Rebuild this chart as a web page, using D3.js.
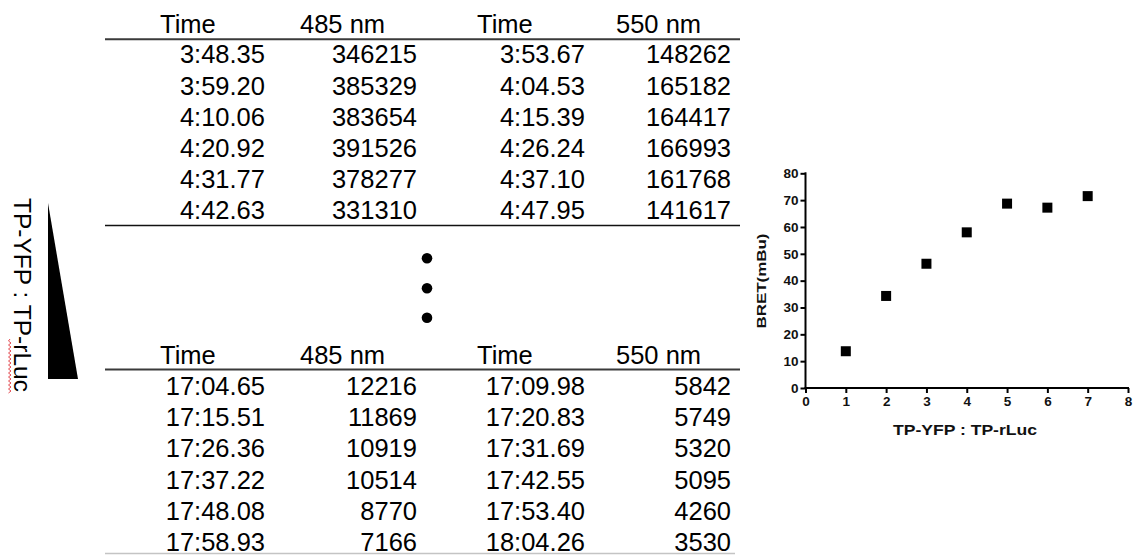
<!DOCTYPE html>
<html>
<head>
<meta charset="utf-8">
<script src="https://cdn.jsdelivr.net/npm/d3@7"></script>
<style>
  html, body { margin: 0; padding: 0; background: #fff; }
  svg text { font-family: "Liberation Sans", Arial, sans-serif; }
</style>
</head>
<body>
<svg id="fig" width="1136" height="555"></svg>
<script>
// ---------------- data ----------------
const headers = ["Time", "485 nm", "Time", "550 nm"];
const topTime485 = ["3:48.35", "3:59.20", "4:10.06", "4:20.92", "4:31.77", "4:42.63"];
const top485     = [346215, 385329, 383654, 391526, 378277, 331310];
const topTime550 = ["3:53.67", "4:04.53", "4:15.39", "4:26.24", "4:37.10", "4:47.95"];
const top550     = [148262, 165182, 164417, 166993, 161768, 141617];
const botTime485 = ["17:04.65", "17:15.51", "17:26.36", "17:37.22", "17:48.08", "17:58.93"];
const bot485     = [12216, 11869, 10919, 10514, 8770, 7166];
const botTime550 = ["17:09.98", "17:20.83", "17:31.69", "17:42.55", "17:53.40", "18:04.26"];
const bot550     = [5842, 5749, 5320, 5095, 4260, 3530];

const ratio = [1, 2, 3, 4, 5, 6, 7];
const bret  = [13.7, 34.3, 46.3, 58.0, 68.7, 67.2, 71.5];
const xTicks = [0, 1, 2, 3, 4, 5, 6, 7, 8];
const yTicks = [0, 10, 20, 30, 40, 50, 60, 70, 80];
const xLabel = "TP-YFP : TP-rLuc";
const yLabel = "BRET(mBu)";
const sideLabel = "TP-YFP : TP-rLuc";

// ---------------- drawing ----------------
const svg = d3.select("#fig");
const FS = 25.5;

// column layout
const headerX = [160, 300, 477, 616];
const colRight = [265, 417, 585, 731];
const rowStep = 31.2;

function drawBlock(headerBase, lineY, firstBase, cols) {
  const g = svg.append("g");
  g.selectAll("text.h").data(headers).join("text")
    .attr("class", "h")
    .attr("x", (d, i) => headerX[i]).attr("y", headerBase)
    .attr("font-size", FS).attr("fill", "#000").text(d => d);
  g.append("line").attr("x1", 105).attr("x2", 740).attr("y1", lineY).attr("y2", lineY)
    .attr("stroke", "#3a3a3a").attr("stroke-width", 2);
  cols.forEach((col, ci) => {
    g.selectAll("text.c" + ci).data(col).join("text")
      .attr("class", "c" + ci)
      .attr("x", colRight[ci])
      .attr("y", (d, i) => firstBase + i * rowStep)
      .attr("text-anchor", "end")
      .attr("font-size", FS).attr("fill", "#000")
      .text(d => d);
  });
}

drawBlock(33, 39.3, 63.3, [topTime485, top485, topTime550, top550]);
svg.append("line").attr("x1", 105).attr("x2", 740).attr("y1", 225.5).attr("y2", 225.5)
  .attr("stroke", "#111").attr("stroke-width", 1.3);
drawBlock(363.5, 369.5, 395, [botTime485, bot485, botTime550, bot550]);
svg.append("line").attr("x1", 105).attr("x2", 735).attr("y1", 553.5).attr("y2", 553.5)
  .attr("stroke", "#c4c4c4").attr("stroke-width", 1.3);

// ellipsis dots
svg.selectAll("circle.dot").data([258.3, 288.3, 317.8]).join("circle")
  .attr("class", "dot").attr("cx", 427).attr("cy", d => d).attr("r", 5.3).attr("fill", "#000");

// side label + triangle
svg.append("text")
  .attr("transform", "translate(14,198) rotate(90)")
  .attr("font-size", 24.5).attr("fill", "#000")
  .attr("textLength", 194).attr("lengthAdjust", "spacingAndGlyphs")
  .text(sideLabel);
// spellcheck squiggle under "Luc"
(function () {
  let p = "M10,339";
  let yy = 339, k = 0;
  while (yy < 392) { yy += 2; k++; p += "L" + (k % 2 ? 8.5 : 11) + "," + yy; }
  svg.append("path").attr("d", p).attr("fill", "none").attr("stroke", "#e0393e").attr("stroke-width", 0.9);
})();
svg.append("path").attr("d", "M48,203L48,379L78,379Z").attr("fill", "#000");

// ---------------- scatter ----------------
const x = d3.scaleLinear().domain([0, 8]).range([805.5, 1128]);
const y = d3.scaleLinear().domain([0, 80]).range([388, 173.3]);

const gx = svg.append("g").attr("transform", `translate(0,${y(0)})`)
  .call(d3.axisBottom(x).tickValues(xTicks).tickSize(5).tickPadding(3).tickSizeOuter(0));
const gy = svg.append("g").attr("transform", `translate(${x(0)},0)`)
  .call(d3.axisLeft(y).tickValues(yTicks).tickSize(5).tickPadding(2).tickSizeOuter(0));
[gx, gy].forEach(g => {
  g.attr("font-size", 13.5).attr("font-weight", "bold");
  g.select(".domain").attr("stroke", "#000").attr("stroke-width", 2);
  g.selectAll(".tick line").attr("stroke", "#000").attr("stroke-width", 2);
  g.selectAll(".tick text").attr("font-size", 13.5).attr("font-weight", "bold")
    .attr("fill", "#111").attr("font-family", "'Liberation Sans', Arial, sans-serif");
});
// extend domains slightly so they meet at the corner
gx.select(".domain").attr("d", `M${x(0) - 1},0H${x(8) + 1}`);
gy.select(".domain").attr("d", `M0,${y(80) - 1}V${y(0) + 1}`);

const S = 10;
svg.selectAll("rect.pt").data(ratio).join("rect")
  .attr("class", "pt")
  .attr("x", (d) => x(d) - S / 2)
  .attr("y", (d, i) => y(bret[i]) - S / 2)
  .attr("width", S).attr("height", S).attr("fill", "#000");

svg.append("text")
  .attr("x", 965).attr("y", 435).attr("text-anchor", "middle")
  .attr("font-size", 15.5).attr("font-weight", "bold").attr("fill", "#111")
  .attr("textLength", 144).attr("lengthAdjust", "spacingAndGlyphs")
  .text(xLabel);
svg.append("text")
  .attr("transform", "translate(766,281) rotate(-90)")
  .attr("text-anchor", "middle")
  .attr("font-size", 13).attr("font-weight", "bold").attr("fill", "#111")
  .attr("textLength", 95).attr("lengthAdjust", "spacingAndGlyphs")
  .text(yLabel);
</script>
</body>
</html>
